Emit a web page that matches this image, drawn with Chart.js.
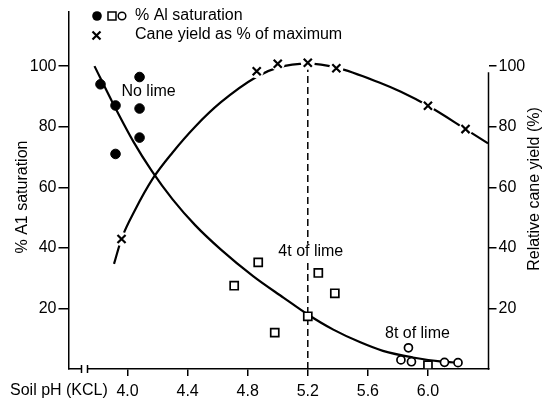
<!DOCTYPE html>
<html>
<head>
<meta charset="utf-8">
<script src="https://cdn.jsdelivr.net/npm/chart.js@4"></script>
<style>
html, body { margin: 0; padding: 0; background: #fff; }
#wrap { width: 551px; height: 400px; position: relative; }
</style>
</head>
<body>
<div id="wrap"><canvas id="limeChart"></canvas></div>
<script>
// % Al saturation, no lime (filled circles)
const noLimePH = [3.82, 3.92, 3.92, 4.08, 4.08, 4.08];
const noLimeAl = [94, 87, 71, 96.4, 86, 76.4];
// 4t of lime (open squares)
const lime4PH = [4.71, 4.87, 4.98, 5.20, 5.27, 5.38, 6.00];
const lime4Al = [27.5, 35.2, 12, 17.4, 31.7, 25, 1.3];
// 8t of lime (open circles)
const lime8PH = [5.82, 5.87, 5.89, 6.11, 6.20];
const lime8Al = [3, 7, 2.4, 2.2, 2.1];
// cane yield as % of maximum (crosses)
const yieldPH = [3.96, 4.86, 5.00, 5.20, 5.39, 6.00, 6.25];
const yieldPct = [42.9, 98.3, 100.8, 101.1, 99.3, 86.9, 79.2];

// fitted curves
const alCurvePH = [3.78, 3.90, 4.04, 4.16, 4.30, 4.45, 4.62, 4.84, 5.04, 5.20, 5.37, 5.55, 5.70, 5.90, 6.08, 6.22];
const alCurveVal = [100, 88, 75, 65.5, 56, 47.5, 39.5, 30.5, 23.5, 18, 13, 8.8, 6, 3.8, 2.5, 2];
const yieldCurvePH = [3.91, 3.96, 4.05, 4.17, 4.30, 4.45, 4.62, 4.86, 5.00, 5.20, 5.39, 5.68, 5.82, 6.00, 6.25, 6.40];
const yieldCurveVal = [34.7, 43, 52.5, 63, 71.5, 80, 88, 96.5, 99.5, 100.8, 99.5, 94.5, 91.5, 86.9, 79.2, 74.5];

// axis ticks
const pHTicks = [4.0, 4.4, 4.8, 5.2, 5.6, 6.0];
const pctTicks = [20, 40, 60, 80, 100];

// vertical marker at the optimum pH
const optimumPH = 5.2;
const optimumTop = 100;

// treatment notes
const noteText = ['No lime', '4t of lime', '8t of lime'];
const notePH = [4.14, 5.22, 5.93];
const noteVal = [91.5, 38.7, 11.8];

const FONT = "'Liberation Sans', Arial, sans-serif";
const INK = '#000';

const pts = (xs, ys) => xs.map((x, i) => ({ x: x, y: ys[i] }));

// legend, notes, titles, axis break and the short right axis
const decor = {
    id: 'decor',
    afterDraw(chart) {
        const ctx = chart.ctx;
        const xs = chart.scales.x;
        const ys = chart.scales.y;
        const yr = chart.scales.yR;
        const area = chart.chartArea;
        ctx.save();
        ctx.fillStyle = INK;
        ctx.strokeStyle = INK;
        ctx.font = '16px ' + FONT;
        ctx.textBaseline = 'middle';

        // notes
        ctx.textAlign = 'center';
        noteText.forEach((t, i) => {
            const px = xs.getPixelForValue(notePH[i]);
            const py = ys.getPixelForValue(noteVal[i]);
            const w = ctx.measureText(t).width;
            ctx.fillStyle = '#fff';
            ctx.fillRect(px - w / 2 - 2, py - 8, w + 4, 16);
            ctx.fillStyle = INK;
            ctx.fillText(t, px, py);
        });

        // legend
        ctx.textAlign = 'left';
        ctx.lineWidth = 1.5;
        ctx.beginPath();
        ctx.arc(97, 16, 4.8, 0, Math.PI * 2);
        ctx.fill();
        ctx.strokeRect(108, 12, 8, 8);
        ctx.beginPath();
        ctx.arc(122, 16, 3.8, 0, Math.PI * 2);
        ctx.stroke();
        ctx.fillText('% Al saturation', 135, 16);
        ctx.lineWidth = 2.2;
        ctx.beginPath();
        ctx.moveTo(92.5, 31.5); ctx.lineTo(100.5, 39.5);
        ctx.moveTo(100.5, 31.5); ctx.lineTo(92.5, 39.5);
        ctx.stroke();
        ctx.fillText('Cane yield as % of maximum', 135, 35);

        // x axis title, level with the tick labels
        ctx.fillText('Soil pH (KCL)', 10, 391);

        // y axis titles, both reading upward
        ctx.textAlign = 'center';
        ctx.save();
        ctx.translate(23, 197);
        ctx.rotate(-Math.PI / 2);
        ctx.fillText('% A1 saturation', 0, 0);
        ctx.restore();
        ctx.save();
        ctx.translate(535, 189);
        ctx.rotate(-Math.PI / 2);
        ctx.fillText('Relative cane yield (%)', 0, 0);
        ctx.restore();

        // right axis line, stops just under 100
        ctx.lineWidth = 1.5;
        ctx.beginPath();
        ctx.moveTo(area.right, yr.getPixelForValue(98));
        ctx.lineTo(area.right, area.bottom + 0.75);
        ctx.stroke();

        // axis break near the origin
        const b1 = area.left + 13, b2 = area.left + 19;
        ctx.fillStyle = '#fff';
        ctx.fillRect(b1, area.bottom - 2, b2 - b1, 4);
        ctx.beginPath();
        ctx.moveTo(b1, area.bottom - 4); ctx.lineTo(b1, area.bottom + 4);
        ctx.moveTo(b2, area.bottom - 4); ctx.lineTo(b2, area.bottom + 4);
        ctx.stroke();
        ctx.restore();
    }
};

const tickFont = { family: FONT, size: 16 };

const ctx = document.getElementById('limeChart').getContext('2d');
const limeChart = new Chart(ctx, {
    type: 'scatter',
    data: {
        datasets: [
            {
                label: 'Cane yield as % of maximum',
                data: pts(yieldPH, yieldPct),
                yAxisID: 'yR',
                pointStyle: 'crossRot',
                pointRadius: 5.7,
                borderColor: INK,
                borderWidth: 2.2,
                order: 0
            },
            {
                // white halo so the curve breaks around each cross
                label: 'halo',
                data: pts(yieldPH, yieldPct),
                yAxisID: 'yR',
                pointStyle: 'circle',
                pointRadius: 7,
                backgroundColor: '#fff',
                borderWidth: 0,
                order: 1
            },
            {
                label: 'No lime',
                data: pts(noLimePH, noLimeAl),
                pointStyle: 'circle',
                pointRadius: 4.8,
                backgroundColor: INK,
                borderColor: INK,
                borderWidth: 1,
                order: 2
            },
            {
                label: '4t of lime',
                data: pts(lime4PH, lime4Al),
                pointStyle: 'rect',
                pointRadius: 5.7,
                backgroundColor: '#fff',
                borderColor: INK,
                borderWidth: 1.7,
                order: 2
            },
            {
                label: '8t of lime',
                data: pts(lime8PH, lime8Al),
                pointStyle: 'circle',
                pointRadius: 4,
                backgroundColor: '#fff',
                borderColor: INK,
                borderWidth: 1.7,
                order: 2
            },
            {
                label: 'Al curve',
                data: pts(alCurvePH, alCurveVal),
                showLine: true,
                pointRadius: 0,
                borderColor: INK,
                borderWidth: 2.2,
                cubicInterpolationMode: 'monotone',
                order: 5
            },
            {
                label: 'Yield curve',
                data: pts(yieldCurvePH, yieldCurveVal),
                yAxisID: 'yR',
                showLine: true,
                pointRadius: 0,
                borderColor: INK,
                borderWidth: 2.2,
                cubicInterpolationMode: 'monotone',
                order: 5
            },
            {
                label: 'Optimum',
                data: [{ x: optimumPH, y: 0 }, { x: optimumPH, y: optimumTop }],
                showLine: true,
                pointRadius: 0,
                borderColor: INK,
                borderWidth: 1.5,
                borderDash: [7, 4],
                order: 6
            }
        ]
    },
    options: {
        responsive: true,
        maintainAspectRatio: false,
        animation: false,
        layout: { padding: { top: 9, left: 0, right: 0, bottom: 0 } },
        plugins: {
            legend: { display: false },
            tooltip: { enabled: false }
        },
        scales: {
            x: {
                type: 'linear',
                min: 3.607,
                max: 6.403,
                afterBuildTicks: s => { s.ticks = pHTicks.map(v => ({ value: v })); },
                afterFit: s => { s.height = 31; },
                ticks: {
                    callback: v => v.toFixed(1),
                    font: tickFont,
                    color: INK,
                    padding: 6,
                    autoSkip: false,
                    maxRotation: 0
                },
                grid: { drawOnChartArea: false, tickLength: 7, color: INK, lineWidth: 1.5 },
                border: { color: INK, width: 1.5 }
            },
            y: {
                position: 'left',
                min: 0,
                max: 118,
                afterBuildTicks: s => { s.ticks = pctTicks.map(v => ({ value: v })); },
                afterFit: s => { s.width = 68.5; },
                ticks: { font: tickFont, color: INK, padding: 2 },
                grid: { drawOnChartArea: false, tickLength: 10, color: INK, lineWidth: 1.5 },
                border: { color: INK, width: 1.5 }
            },
            yR: {
                position: 'right',
                min: 0,
                max: 118,
                afterBuildTicks: s => { s.ticks = pctTicks.map(v => ({ value: v })); },
                afterFit: s => { s.width = 62.5; },
                ticks: { font: tickFont, color: INK, padding: 2 },
                grid: { drawOnChartArea: false, tickLength: 8, color: INK, lineWidth: 1.5 },
                border: { display: false }
            }
        }
    },
    plugins: [decor]
});
</script>
</body>
</html>
